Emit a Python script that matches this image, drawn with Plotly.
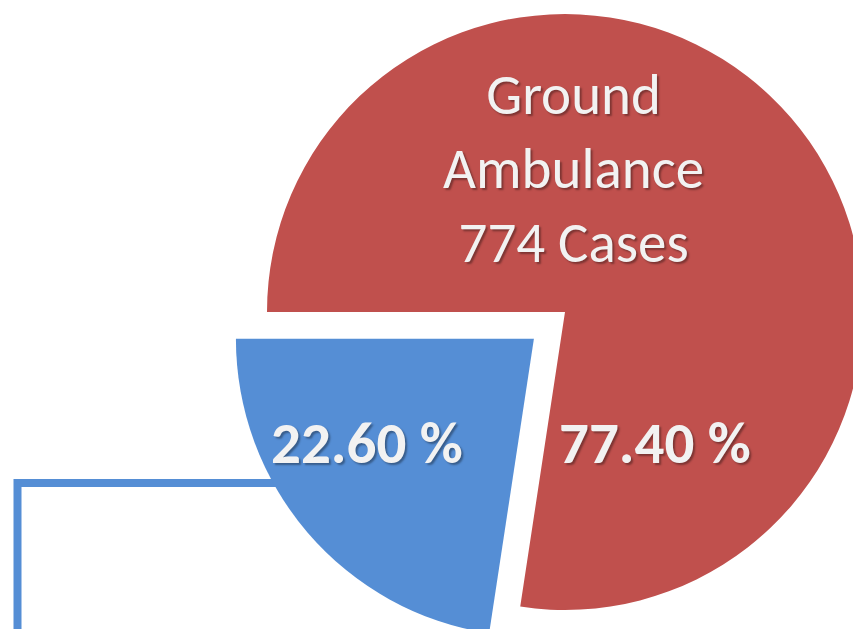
import plotly.graph_objects as go
import math

# ---- data ----
labels = ["Air Ambulance", "Ground Ambulance"]
shares = [22.6, 77.4]          # percent
cases_ground = 774
colors = ["#558ED5", "#C0504D"]

W, H = 861, 629
R = 298                 # pie radius in px (figure coordinates)
red_c = (557, 304)      # centre of the main pie (figure px)
pull_px = 41            # how far the blue slice is pulled out

# rotation so the blue slice begins at 9 o'clock and runs towards 6 o'clock
blue_deg = shares[0] / sum(shares) * 360
rotation = 270 - blue_deg
bis = math.radians(rotation + blue_deg / 2)
blue_c = (red_c[0] + pull_px * math.sin(bis), red_c[1] - pull_px * math.cos(bis))


def dom(c):
    cx, cy = c
    x0, x1 = (cx - R) / W, (cx + R) / W
    y0, y1 = 1 - (cy + R) / H, 1 - (cy - R) / H
    clamp = lambda v: min(1, max(0, v))
    return dict(x=[clamp(x0), clamp(x1)], y=[clamp(y0), clamp(y1)])


fig = go.Figure()
fig.add_trace(go.Pie(
    labels=labels, values=shares, sort=False, direction="clockwise",
    rotation=rotation, textinfo="none", hoverinfo="label+percent",
    marker=dict(colors=["rgba(0,0,0,0)", colors[1]], line=dict(width=0)),
    domain=dom(red_c), showlegend=False,
))
fig.add_trace(go.Pie(
    labels=labels, values=shares, sort=False, direction="clockwise",
    rotation=rotation, textinfo="none", hoverinfo="label+percent",
    marker=dict(colors=[colors[0], "rgba(0,0,0,0)"], line=dict(width=0)),
    domain=dom(blue_c), showlegend=False,
))

FONT = "Carlito, Lato, 'Open Sans', sans-serif"
shadow = "2px 2px 2px rgba(0,0,0,0.35)"
txtcol = "#F2F2F2"

anns = [
    dict(text=f"Ground<br>Ambulance<br>{cases_ground} Cases", x=565 / W, y=1 - 160 / H,
         font=dict(size=57, family=FONT, color=txtcol, shadow=shadow)),
    dict(text=f"<b>{shares[1]:.2f} %</b>", x=647 / W, y=1 - 435 / H,
         font=dict(size=59, family=FONT, color=txtcol, shadow=shadow)),
    dict(text=f"<b>{shares[0]:.2f} %</b>", x=359 / W, y=1 - 435 / H,
         font=dict(size=59, family=FONT, color=txtcol, shadow=shadow)),
]
for a in anns:
    a.update(xref="paper", yref="paper", showarrow=False, xanchor="center", yanchor="middle")

lx, ly = 9.5 / W, 1 - 475 / H
fig.update_layout(
    width=W, height=H,
    margin=dict(l=0, r=0, t=0, b=0),
    paper_bgcolor="white", plot_bgcolor="white",
    annotations=anns,
    shapes=[dict(type="path", xref="paper", yref="paper", layer="below",
                 path=f"M {lx} -0.05 L {lx} {ly} L {300 / W} {ly}",
                 line=dict(color=colors[0], width=8))],
)

fig.write_html("out.html")
